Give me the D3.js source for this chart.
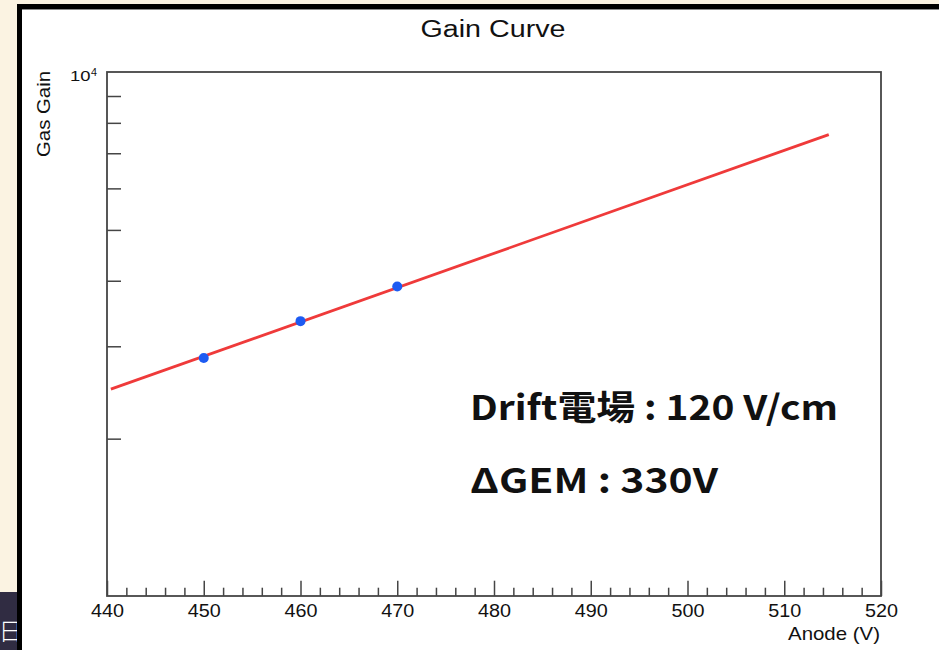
<!DOCTYPE html>
<html>
<head>
<meta charset="utf-8">
<script src="https://cdn.jsdelivr.net/npm/d3@7"></script>
<style>
  html, body { margin: 0; padding: 0; background: #fbf3e2; }
  svg { display: block; }
</style>
</head>
<body>
<svg id="chart" width="939" height="650"></svg>
<script>
// Measured gain points
const anode = [450, 460, 470];
const gain = [2850, 3350, 3900];

// Exponential fit, drawn as a straight segment on the log axis
const fitAnode = [440.4, 514.6];
const fitGain = [2485, 7596];

// Axis ticks
const xMajorTicks = [440, 450, 460, 470, 480, 490, 500, 510, 520];
const xMinorTicks = d3.range(440, 521, 2).filter(v => v % 10 !== 0);
const yTicks = [2000, 3000, 4000, 5000, 6000, 7000, 8000, 9000];
const yTopLabel = { base: "10", exp: "4" };

const titleText = "Gain Curve";
const xTitle = "Anode (V)";
const yTitle = "Gas Gain";
const notes = ["Drift電場 : 120 V/cm", "ΔGEM : 330V"];

const svg = d3.select("#chart");
const rootFont = "'Liberation Sans', Arial, Helvetica, sans-serif";
const axisColor = "#454545";

// Window chrome around the canvas
svg.append("rect").attr("x", 0).attr("y", 0).attr("width", 939).attr("height", 650).attr("fill", "#fbf3e2");
svg.append("rect").attr("x", 0).attr("y", 592).attr("width", 17).attr("height", 58).attr("fill", "#302c42");
svg.append("text").attr("x", -1.5).attr("y", 640).attr("font-family", "'Noto Sans CJK JP'")
  .attr("font-size", 24).attr("font-weight", 300).attr("fill", "#ffffff").text("日");
svg.append("rect").attr("x", 17).attr("y", 4).attr("width", 922).attr("height", 646).attr("fill", "#000");
svg.append("rect").attr("x", 22).attr("y", 9).attr("width", 917).attr("height", 641).attr("fill", "#8a8a8a");
svg.append("rect").attr("x", 22).attr("y", 10).attr("width", 917).attr("height", 640).attr("fill", "#ffffff");

// Plot area
const plotL = 107, plotR = 881, plotT = 72, plotB = 596;
const x = d3.scaleLinear().domain([440, 520]).range([plotL, plotR]);
const y = d3.scaleLog().domain([1002.5, 10000]).range([plotB, plotT]);

// Minor x ticks
svg.append("g").attr("transform", `translate(0,${plotB})`)
  .call(d3.axisBottom(x).tickValues(xMinorTicks).tickSize(-8.3).tickSizeOuter(0).tickFormat(""))
  .call(g => g.select(".domain").remove())
  .call(g => g.selectAll("line").attr("stroke", axisColor).attr("stroke-width", 1.5));

// Major x ticks with labels
const xAxisG = svg.append("g").attr("transform", `translate(0,${plotB})`)
  .call(d3.axisBottom(x).tickValues(xMajorTicks).tickSize(-15.3).tickSizeOuter(0).tickPadding(0).tickFormat(d3.format("d")))
  .call(g => g.select(".domain").remove())
  .call(g => g.selectAll("line").attr("stroke", axisColor).attr("stroke-width", 1.5));
xAxisG.selectAll("text")
  .attr("y", 21.3).attr("dy", null)
  .attr("font-family", rootFont).attr("font-size", 18).attr("fill", "#111")
  .attr("textLength", 33).attr("lengthAdjust", "spacingAndGlyphs");

// Log y ticks
svg.append("g").attr("transform", `translate(${plotL},0)`)
  .call(d3.axisLeft(y).tickValues(yTicks).tickSize(-14).tickSizeOuter(0).tickFormat(""))
  .call(g => g.select(".domain").remove())
  .call(g => g.selectAll("line").attr("stroke", axisColor).attr("stroke-width", 1.5));

// Frame
svg.append("rect").attr("x", plotL).attr("y", plotT).attr("width", plotR - plotL).attr("height", plotB - plotT)
  .attr("fill", "none").attr("stroke", axisColor).attr("stroke-width", 1.8);

// 10^4 label at the top of the y axis
const yl = svg.append("g").attr("font-family", rootFont).attr("fill", "#111");
yl.append("text").attr("x", 70).attr("y", 80.5).attr("font-size", 14.5)
  .attr("textLength", 20.5).attr("lengthAdjust", "spacingAndGlyphs").text(yTopLabel.base);
yl.append("text").attr("x", 91).attr("y", 75.5).attr("font-size", 10.5)
  .attr("textLength", 6).attr("lengthAdjust", "spacingAndGlyphs").text(yTopLabel.exp);

// Title and axis titles
svg.append("text").attr("x", 493).attr("y", 36.5).attr("text-anchor", "middle")
  .attr("font-family", rootFont).attr("font-size", 23).attr("fill", "#111")
  .attr("textLength", 145).attr("lengthAdjust", "spacingAndGlyphs").text(titleText);
svg.append("text").attr("x", 880).attr("y", 639.5).attr("text-anchor", "end")
  .attr("font-family", rootFont).attr("font-size", 19).attr("fill", "#111")
  .attr("textLength", 92).attr("lengthAdjust", "spacingAndGlyphs").text(xTitle);
svg.append("text").attr("transform", "translate(50,71) rotate(-90)").attr("text-anchor", "end")
  .attr("font-family", rootFont).attr("font-size", 17.5).attr("fill", "#111")
  .attr("textLength", 86).attr("lengthAdjust", "spacingAndGlyphs").text(yTitle);

// Fit curve
const line = d3.line().x(d => x(d[0])).y(d => y(d[1]));
svg.append("path").datum(d3.zip(fitAnode, fitGain))
  .attr("d", line).attr("fill", "none").attr("stroke", "#ef3a3a").attr("stroke-width", 2.8);

// Data points
svg.append("g").selectAll("circle").data(d3.zip(anode, gain)).join("circle")
  .attr("cx", d => x(d[0])).attr("cy", d => y(d[1])).attr("r", 5).attr("fill", "#1d5bf2");

// Run conditions
const noteG = svg.append("g").attr("font-family", "'Noto Sans CJK JP', 'Noto Sans', sans-serif")
  .attr("font-weight", 700).attr("font-size", 34).attr("fill", "#111");
noteG.append("text").attr("x", 470).attr("y", 420).attr("textLength", 368).attr("lengthAdjust", "spacingAndGlyphs").text(notes[0]);
noteG.append("text").attr("x", 470).attr("y", 493).attr("textLength", 248).attr("lengthAdjust", "spacingAndGlyphs").text(notes[1]);
</script>
</body>
</html>
